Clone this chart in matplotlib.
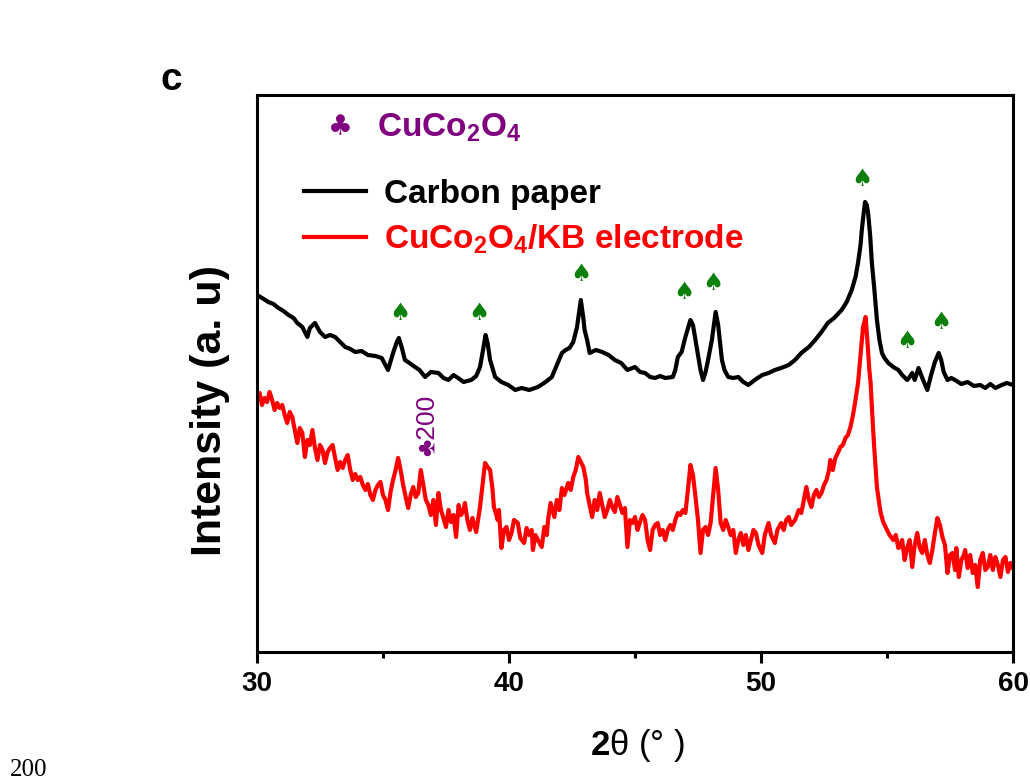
import numpy as np
import matplotlib
matplotlib.use('Agg')
import matplotlib.pyplot as plt
from matplotlib.lines import Line2D

plt.rcParams['font.family'] = ['Liberation Sans', 'DejaVu Sans']
plt.rcParams['mathtext.fontset'] = 'custom'
plt.rcParams['mathtext.rm'] = 'Liberation Sans'
plt.rcParams['mathtext.bf'] = 'Liberation Sans:bold'

# XRD pattern of bare carbon paper
two_theta_cp = [30.0, 30.2, 30.45, 30.65, 30.85, 31.05, 31.25, 31.45, 31.6, 31.8,
                32.0, 32.1, 32.3, 32.5, 32.7, 32.9, 33.1, 33.3, 33.5, 33.7,
                33.9, 34.15, 34.4, 34.7, 34.95, 35.2, 35.4, 35.55, 35.63, 35.75,
                35.87, 36.05, 36.27, 36.45, 36.67, 36.9, 37.2, 37.4, 37.6, 37.8,
                37.98, 38.2, 38.5, 38.7, 38.85, 38.97, 39.07, 39.15, 39.25, 39.45,
                39.7, 39.97, 40.25, 40.5, 40.8, 41.15, 41.45, 41.7, 41.9, 42.1,
                42.25, 42.4, 42.55, 42.7, 42.85, 42.95, 43.0, 43.1, 43.2, 43.45,
                43.7, 43.95, 44.2, 44.45, 44.7, 45.0, 45.2, 45.4, 45.6, 45.8,
                46.0, 46.2, 46.5, 46.6, 46.7, 46.85, 47.0, 47.2, 47.3, 47.4,
                47.5, 47.6, 47.7, 47.8, 47.9, 48.05, 48.2, 48.3, 48.45, 48.55,
                48.7, 48.9, 49.1, 49.3, 49.5, 49.75, 50.05, 50.3, 50.55, 50.8,
                51.1, 51.35, 51.6, 51.9, 52.15, 52.4, 52.65, 52.9, 53.2, 53.4,
                53.6, 53.75, 53.85, 53.95, 54.0, 54.08, 54.13, 54.2, 54.25, 54.33,
                54.4, 54.5, 54.6, 54.7, 54.8, 54.9, 55.05, 55.25, 55.45, 55.6,
                55.8, 55.9, 56.0, 56.1, 56.25, 56.4, 56.6, 56.75, 56.9, 57.05,
                57.15, 57.25, 57.4, 57.55, 57.7, 57.95, 58.2, 58.45, 58.7, 58.9,
                59.1, 59.3, 59.55, 59.75, 60.0]
intensity_cp = [358, 355, 351, 349, 345, 342, 338, 335, 330, 326,
                316, 325, 330, 321, 316, 318, 316, 311, 306, 304,
                301, 302, 298, 297, 295, 283, 300, 311, 315, 305,
                293, 290, 286, 283, 276, 281, 280, 275, 273, 278,
                275, 271, 273, 277, 286, 303, 318, 310, 293, 276,
                271, 268, 263, 265, 263, 266, 271, 276, 288, 300,
                303, 305, 311, 326, 353, 335, 323, 313, 300, 303,
                301, 298, 293, 290, 283, 286, 281, 280, 276, 275,
                277, 275, 276, 283, 296, 301, 316, 333, 328, 313,
                298, 283, 273, 281, 293, 313, 341, 328, 293, 283,
                276, 275, 276, 271, 268, 273, 278, 280, 283, 285,
                288, 293, 300, 306, 313, 321, 330, 335, 343, 351,
                363, 376, 390, 408, 423, 441, 451, 448, 440, 418,
                390, 363, 333, 313, 300, 295, 290, 286, 283, 278,
                273, 276, 280, 273, 285, 275, 263, 278, 291, 300,
                293, 281, 273, 275, 273, 269, 271, 267, 268, 265,
                269, 265, 268, 270, 268]

# XRD pattern of the CuCo2O4/KB electrode
two_theta_kb = [30.0, 30.1, 30.2, 30.3, 30.4, 30.5, 30.6, 30.7, 30.8, 30.9,
                31.0, 31.1, 31.2, 31.3, 31.4, 31.5, 31.6, 31.7, 31.8, 31.9,
                32.0, 32.1, 32.2, 32.3, 32.4, 32.5, 32.6, 32.7, 32.8, 32.9,
                33.0, 33.1, 33.2, 33.3, 33.4, 33.5, 33.6, 33.7, 33.8, 33.9,
                34.0, 34.1, 34.2, 34.3, 34.4, 34.5, 34.6, 34.7, 34.8, 34.9,
                35.0, 35.1, 35.2, 35.3, 35.4, 35.5, 35.6, 35.7, 35.8, 35.9,
                36.0, 36.1, 36.2, 36.3, 36.4, 36.5, 36.6, 36.7, 36.8, 36.9,
                37.0, 37.1, 37.2, 37.3, 37.4, 37.5, 37.6, 37.7, 37.8, 37.9,
                38.0, 38.1, 38.2, 38.25, 38.35, 38.45, 38.55, 38.7, 38.8, 38.85,
                38.95, 39.05, 39.15, 39.25, 39.35, 39.4, 39.5, 39.55, 39.6, 39.7,
                39.8, 39.9, 40.0, 40.1, 40.2, 40.35, 40.45, 40.6, 40.7, 40.8,
                40.9, 40.95, 41.05, 41.15, 41.3, 41.4, 41.5, 41.55, 41.65, 41.8,
                41.9, 42.0, 42.1, 42.2, 42.35, 42.45, 42.55, 42.65, 42.75, 42.85,
                42.95, 43.05, 43.1, 43.2, 43.3, 43.4, 43.5, 43.6, 43.7, 43.8,
                43.9, 44.0, 44.1, 44.2, 44.3, 44.4, 44.5, 44.6, 44.7, 44.8,
                44.9, 45.0, 45.1, 45.2, 45.3, 45.4, 45.5, 45.6, 45.7, 45.8,
                45.9, 46.0, 46.1, 46.2, 46.3, 46.4, 46.5, 46.6, 46.7, 46.8,
                46.9, 47.0, 47.1, 47.2, 47.3, 47.4, 47.5, 47.6, 47.7, 47.8,
                47.9, 48.0, 48.1, 48.2, 48.3, 48.4, 48.5, 48.6, 48.7, 48.8,
                48.9, 49.0, 49.1, 49.2, 49.3, 49.4, 49.5, 49.6, 49.7, 49.8,
                49.9, 50.05, 50.15, 50.3, 50.4, 50.55, 50.65, 50.8, 50.9, 51.0,
                51.1, 51.2, 51.35, 51.5, 51.6, 51.7, 51.8, 51.9, 52.0, 52.1,
                52.2, 52.3, 52.4, 52.5, 52.6, 52.7, 52.75, 52.85, 52.95, 53.05,
                53.15, 53.25, 53.35, 53.45, 53.55, 53.65, 53.75, 53.85, 53.95, 54.05,
                54.15, 54.22, 54.3, 54.35, 54.45, 54.5, 54.6, 54.7, 54.75, 54.85,
                55.0, 55.1, 55.25, 55.35, 55.45, 55.5, 55.6, 55.7, 55.8, 55.9,
                56.0, 56.1, 56.2, 56.3, 56.4, 56.5, 56.6, 56.7, 56.8, 56.9,
                57.0, 57.1, 57.2, 57.3, 57.4, 57.5, 57.6, 57.7, 57.75, 57.85,
                57.95, 58.05, 58.1, 58.2, 58.3, 58.4, 58.5, 58.6, 58.7, 58.8,
                58.9, 59.0, 59.1, 59.2, 59.3, 59.4, 59.5, 59.6, 59.7, 59.8,
                59.9, 60.0]
intensity_kb = [253, 260, 248, 255, 251, 261, 253, 243, 250, 245,
                248, 238, 230, 241, 236, 223, 210, 225, 220, 196,
                213, 208, 223, 205, 193, 208, 203, 190, 201, 205,
                208, 195, 183, 191, 185, 193, 198, 183, 173, 179,
                173, 176, 168, 163, 169, 158, 153, 163, 168, 171,
                158, 153, 143, 161, 173, 183, 195, 183, 168, 156,
                145, 158, 166, 156, 160, 183, 168, 153, 148, 138,
                153, 128, 160, 143, 135, 126, 143, 131, 138, 116,
                148, 138, 143, 150, 133, 123, 135, 121, 138, 146,
                168, 190, 186, 183, 163, 146, 138, 133, 143, 105,
                123, 126, 113, 120, 133, 130, 115, 110, 125, 118,
                123, 103, 118, 113, 106, 126, 118, 133, 150, 136,
                153, 143, 165, 158, 170, 163, 176, 183, 196, 191,
                186, 173, 160, 148, 136, 153, 143, 160, 148, 136,
                143, 153, 146, 141, 156, 148, 140, 145, 106, 133,
                130, 136, 123, 131, 138, 133, 113, 103, 123, 128,
                130, 118, 123, 113, 123, 128, 123, 133, 140, 138,
                143, 140, 163, 188, 178, 156, 133, 100, 123, 126,
                118, 130, 158, 185, 163, 130, 123, 133, 126, 118,
                123, 100, 113, 120, 108, 118, 103, 113, 123, 120,
                108, 100, 118, 130, 118, 110, 123, 130, 123, 133,
                136, 128, 133, 143, 140, 153, 166, 153, 146, 158,
                163, 156, 160, 168, 173, 183, 193, 183, 195, 200,
                206, 208, 215, 218, 226, 238, 253, 270, 298, 326,
                336, 313, 283, 270, 223, 203, 166, 148, 140, 131,
                123, 118, 113, 118, 105, 106, 113, 93, 105, 113,
                86, 108, 120, 105, 100, 113, 98, 90, 103, 120,
                135, 128, 116, 108, 80, 98, 100, 83, 105, 76,
                93, 98, 103, 85, 98, 80, 88, 66, 93, 100,
                83, 86, 98, 83, 96, 88, 76, 93, 96, 81,
                90, 85]

# carbon-paper reflections marked with spades
spade_pos = [35.67, 38.81, 42.86, 46.94, 48.10, 54.01, 55.79, 57.14]
spade_height = [340, 340, 379, 361, 370, 474, 312, 331]

fig = plt.figure(figsize=(10.30, 7.83), dpi=100)
ax = fig.add_axes([0.2495, 0.1673, 0.7340, 0.7114])

ax.plot(two_theta_cp, intensity_cp, color='black', lw=3.0, solid_joinstyle='round')
ax.plot(two_theta_kb, intensity_kb, color='red', lw=3.0, solid_joinstyle='round')

for x, y in zip(spade_pos, spade_height):
    ax.text(x, y, '\u2660', color='#0a800a', fontsize=17, ha='center', va='center',
            family='DejaVu Sans')

# CuCo2O4 (200) reflection
ax.text(36.72, 228, '\u2663200', color='#800080', fontsize=19, rotation=90,
        ha='center', va='center')

ax.set_xlim(30, 60)
ax.set_ylim(1, 558)
ax.set_xticks([30, 40, 50, 60])
ax.set_xticks([35, 45, 55], minor=True)
ax.set_yticks([])
ax.tick_params(axis='x', which='major', direction='out', length=8, width=2.2,
               labelsize=20, pad=6)
ax.tick_params(axis='x', which='minor', direction='out', length=4.5, width=2.2)
for lab in ax.get_xticklabels():
    lab.set_fontweight('bold')
for sp in ax.spines.values():
    sp.set_linewidth(2.2)

ax.set_xlabel(r'$\mathbf{2}\mathrm{\theta}$ (° )', fontsize=25)
ax.xaxis.set_label_coords(0.503, -0.135)
ax.set_ylabel('Intensity (a. u)', fontsize=31, fontweight='bold')
ax.yaxis.set_label_coords(-0.036, 0.433)

# legend block
ax.text(0.110, 0.941, '\u2663', transform=ax.transAxes, color='#800080',
        fontsize=20, ha='center', va='center', family='DejaVu Sans')
ax.text(0.159, 0.941, r'CuCo$_\mathbf{2}$O$_\mathbf{4}$', transform=ax.transAxes,
        color='#800080', fontsize=24, fontweight='bold', ha='left', va='center')
handles = [Line2D([], [], color='black', lw=3.0), Line2D([], [], color='red', lw=3.0)]
leg = ax.legend(handles, ['Carbon paper', r'CuCo$_\mathbf{2}$O$_\mathbf{4}$/KB electrode'],
                loc='upper left', bbox_to_anchor=(0.062, 0.850), frameon=False,
                handlelength=1.85, handletextpad=0.55, labelspacing=0.38,
                borderpad=0, borderaxespad=0,
                prop={'size': 24, 'weight': 'bold'})
leg.get_texts()[1].set_color('red')

fig.text(0.166, 0.898, 'c', fontsize=28, fontweight='bold', ha='center', va='center')
fig.text(0.010, 0.017, '200', fontsize=18, family='Liberation Serif', ha='left', va='center')

fig.savefig('out.png', dpi=100)
